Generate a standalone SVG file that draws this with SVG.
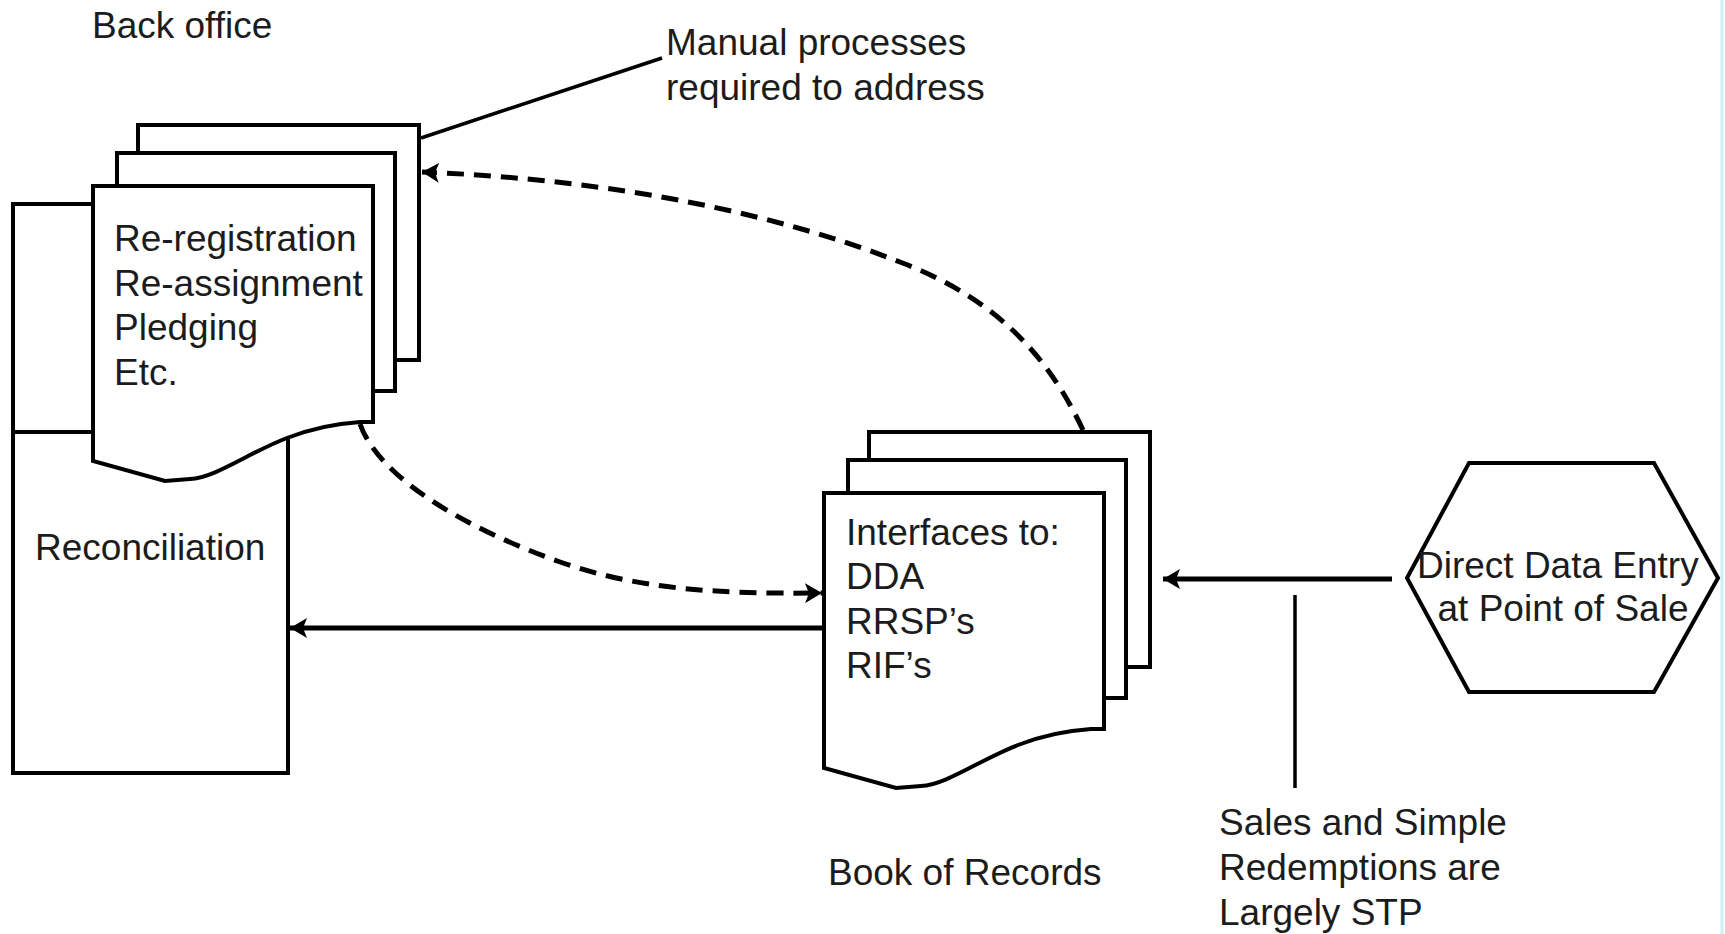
<svg xmlns="http://www.w3.org/2000/svg" width="1725" height="934" viewBox="0 0 1725 934">
  <style>
    .box { fill: #fff; stroke: #000; stroke-width: 4; stroke-linejoin: miter; }
    .lbl { font-family: "Liberation Sans", Arial, sans-serif; font-size: 37px; fill: #1c1c1c; }
    .solid { fill: none; stroke: #000; stroke-width: 5; }
    .dash { fill: none; stroke: #000; stroke-width: 5; stroke-dasharray: 17 10; }
    .thin { fill: none; stroke: #000; stroke-width: 3.5; }
  </style>
  <defs>
    <marker id="arrow" markerWidth="18" markerHeight="20" refX="17" refY="10" orient="auto" markerUnits="userSpaceOnUse">
      <path d="M17,10 L0,0 L4,10 L0,20 Z" fill="#000"/>
    </marker>
    <!-- stacked document shape: two sheets behind a front sheet with a wavy bottom edge -->
    <g id="docstack">
      <rect class="box" x="138" y="125" width="281" height="235"/>
      <rect class="box" x="117" y="153" width="278" height="238"/>
      <path class="box" d="M93,186 H373 V422 L360,422 C330,424 305,431 287,438 C250,452 215,478 190,479 L165,481 L93,461 Z"/>
    </g>
  </defs>

  <rect width="1725" height="934" fill="#fff"/>
  <line x1="1722" y1="0" x2="1722" y2="934" stroke="#cdeef2" stroke-width="3"/>

  <g id="back-office">
    <rect class="box" x="13" y="204" width="275" height="228"/>
    <text class="lbl" x="92" y="38">Back office</text>
  </g>

  <g id="reconciliation">
    <rect class="box" x="13" y="432" width="275" height="341"/>
    <text class="lbl" x="35" y="560">Reconciliation</text>
  </g>

  <g id="manual-processes">
    <use href="#docstack"/>
    <text class="lbl">
      <tspan x="114" y="251">Re-registration</tspan>
      <tspan x="114" y="296">Re-assignment</tspan>
      <tspan x="114" y="340">Pledging</tspan>
      <tspan x="114" y="385">Etc.</tspan>
    </text>
  </g>

  <g id="book-of-records">
    <use href="#docstack" transform="translate(731,307)"/>
    <text class="lbl">
      <tspan x="846" y="545">Interfaces to:</tspan>
      <tspan x="846" y="589">DDA</tspan>
      <tspan x="846" y="634">RRSP’s</tspan>
      <tspan x="846" y="678">RIF’s</tspan>
    </text>
    <text class="lbl" x="828" y="885">Book of Records</text>
  </g>

  <g id="point-of-sale">
    <polygon class="box" points="1469,463 1654,463 1718,578 1654,692 1469,692 1407,578"/>
    <text class="lbl" text-anchor="middle">
      <tspan x="1563" y="578">Direct Data Entry</tspan>
      <tspan x="1563" y="621">at Point of Sale</tspan>
    </text>
  </g>

  <g id="notes">
    <text class="lbl">
      <tspan x="666" y="55">Manual processes</tspan>
      <tspan x="666" y="100">required to address</tspan>
    </text>
    <text class="lbl">
      <tspan x="1219" y="835">Sales and Simple</tspan>
      <tspan x="1219" y="880">Redemptions are</tspan>
      <tspan x="1219" y="925">Largely STP</tspan>
    </text>
  </g>

  <g id="connectors">
    <line class="thin" x1="421" y1="138" x2="662" y2="58"/>
    <line class="solid" x1="824" y1="628" x2="290" y2="628" marker-end="url(#arrow)"/>
    <line class="solid" x1="1392" y1="579" x2="1163" y2="579" marker-end="url(#arrow)"/>
    <line class="thin" x1="1295" y1="595" x2="1295" y2="788"/>
    <path class="dash" d="M1083,430 C1050,360 1000,300 900,262 C780,215 620,180 422,172" marker-end="url(#arrow)"/>
    <path class="dash" d="M360,424 C380,480 470,530 560,562 C640,590 720,594 822,593" marker-end="url(#arrow)"/>
  </g>
</svg>
